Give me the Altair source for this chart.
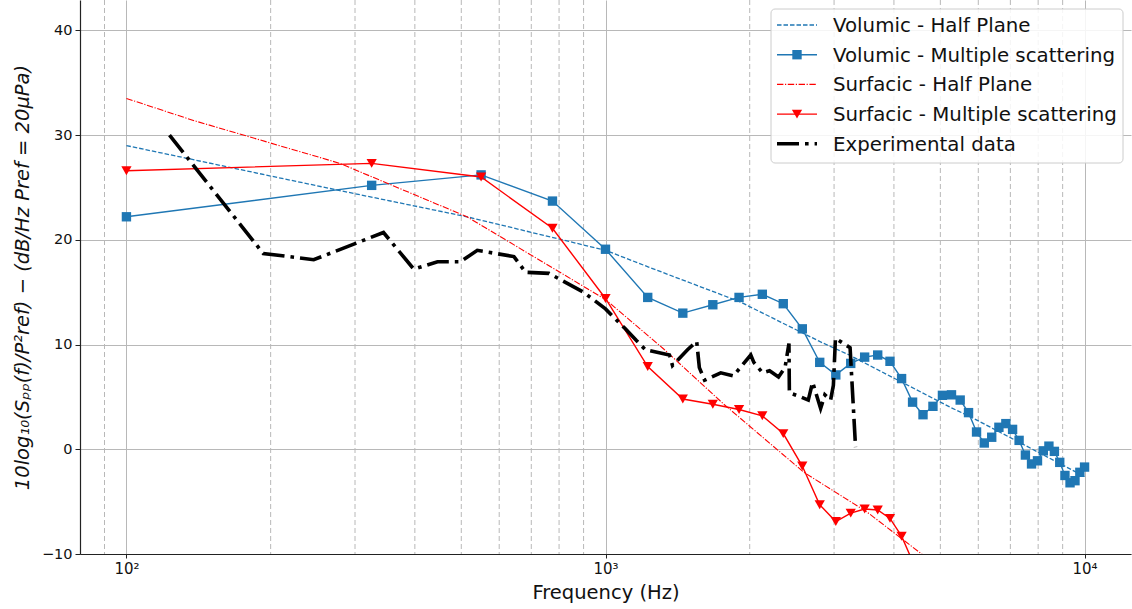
import altair as alt
import pandas as pd

# ---------------- data ----------------
freq_ms = [100, 325, 550, 775, 1000, 1225, 1450, 1675, 1900, 2125, 2350, 2575,
           2800, 3025, 3250, 3475, 3700, 3925, 4150, 4375, 4600, 4825, 5050,
           5275, 5500, 5725, 5950, 6175, 6400, 6625, 6850, 7075, 7300, 7525,
           7750, 7975, 8200, 8425, 8650, 8875, 9100, 9325, 9550, 9775, 10000]

vol_ms = [22.2, 25.2, 26.2, 23.7, 19.1, 14.5, 13.0, 13.8, 14.5, 14.8, 13.9, 11.5,
          8.3, 7.1, 8.2, 8.8, 9.0, 8.4, 6.75, 4.5, 3.3, 4.1, 5.15,
          5.2, 4.7, 3.5, 1.65, 0.6, 1.15, 2.1, 2.45, 1.9, 0.85, -0.55,
          -1.4, -1.1, -0.15, 0.3, -0.2, -1.25, -2.5, -3.2, -3.0, -2.2, -1.7]

sur_ms = [26.6, 27.3, 26.0, 21.1, 14.4, 7.9, 4.8, 4.3, 3.8, 3.2, 1.5, -1.6,
          -5.3, -6.9, -6.1, -5.7, -5.8, -6.6, -8.3, -10.7]

vol_hp_f = [100, 279, 514, 1000, 1230, 1905, 2812, 3228, 5250, 5780, 10000]
vol_hp = [29.0, 24.7, 22.2, 19.0, 17.4, 14.1, 10.25, 9.0, 4.0, 3.1, -2.6]

sur_hp_f = [100, 138, 279, 514, 1000, 1321, 1766, 2595, 3516, 4570, 5000]
sur_hp = [33.5, 31.4, 27.3, 22.2, 14.3, 9.6, 4.3, -2.2, -6.0, -10.0, -11.4]

exp_f = [123, 193, 246, 344, 398, 446, 498, 540, 644, 681, 762, 900, 1000,
         1100, 1159, 1212, 1360, 1380, 1483, 1550, 1570, 1610, 1740, 1848,
         2010, 2040, 2128, 2200, 2297, 2370, 2415, 2420, 2555, 2650, 2706,
         2812, 2870, 2950, 2990, 3020, 3240, 3326]
exp_v = [30.0, 18.7, 18.1, 20.7, 17.2, 17.9, 17.9, 19.0, 18.4, 16.9, 16.8, 15.0, 13.4,
         11.5, 10.4, 9.5, 9.0, 8.0, 9.5, 10.3, 7.8, 6.6, 7.3, 7.0,
         9.0, 8.3, 7.3, 7.5, 6.9, 7.8, 10.1, 5.4, 5.0, 4.7, 6.4,
         3.9, 5.2, 4.7, 6.1, 10.6, 9.7, 0.2]

minor_ticks = [90, 200, 300, 400, 500, 600, 700, 800, 900,
               2000, 3000, 4000, 5000, 6000, 7000, 8000, 9000]
major_x = [100, 1000, 10000]
major_y = [-10, 0, 10, 20, 30, 40]

labels = ["Volumic - Half Plane", "Volumic - Multiple scattering",
          "Surfacic - Half Plane", "Surfacic - Multiple scattering",
          "Experimental data"]

# ---------------- styling ----------------
BLUE = "#1f77b4"
RED = "#ff0000"
FONT = "DejaVu Sans"
SQ_SIZE = 88
TRI_SIZE = 105

xscale = alt.Scale(type="log", domain=[80, 12500], nice=False)
yscale = alt.Scale(domain=[-10, 42.9], nice=False, zero=False)

xaxis = alt.Axis(values=major_x,
                 labelExpr="datum.value == 100 ? '10²' : (datum.value == 1000 ? '10³' : '10⁴')",
                 title="Frequency (Hz)", titleFontSize=19.5, titleFontWeight="normal",
                 titleY=38, titleBaseline="middle", titleColor="#111",
                 labelFontSize=15, labelColor="#111", labelPadding=3,
                 tickSize=4, tickColor="#222", domainColor="#222", domainWidth=1.2,
                 grid=True, gridColor="#b8b8b8", gridWidth=1, labelFlush=False)
yaxis = alt.Axis(values=major_y,
                 labelExpr="datum.value < 0 ? '−' + abs(datum.value) : '' + datum.value",
                 title="10log₁₀(Sₚₚ(f)/P²ref) − (dB/Hz   Pref = 20μPa)",
                 titleFontSize=19.5, titleFontWeight="normal", titleFontStyle="italic",
                 titleX=-58, titleY=277, titleAngle=270, titleBaseline="middle",
                 titleAlign="center", titleColor="#111",
                 labelFontSize=14.5, labelColor="#111", labelPadding=3,
                 tickSize=5, tickColor="#222", domainColor="#222", domainWidth=1.2,
                 grid=True, gridColor="#b8b8b8", gridWidth=1)

X = alt.X("f:Q", scale=xscale, axis=xaxis)
Y = alt.Y("v:Q", scale=yscale, axis=yaxis)

df_vol_ms = pd.DataFrame({"f": freq_ms, "v": vol_ms})
df_sur_ms = pd.DataFrame({"f": freq_ms[:len(sur_ms)], "v": sur_ms})
df_vol_hp = pd.DataFrame({"f": vol_hp_f, "v": vol_hp})
df_sur_hp = pd.DataFrame({"f": sur_hp_f, "v": sur_hp})
df_exp = pd.DataFrame({"f": exp_f, "v": exp_v})
df_minor = pd.DataFrame({"f": minor_ticks})

minor_grid = alt.Chart(df_minor).mark_rule(
    color="#b8b8b8", strokeWidth=1, strokeDash=[5, 3]
).encode(x=alt.X("f:Q", scale=xscale, axis=xaxis))

l_vol_hp = alt.Chart(df_vol_hp).mark_line(
    color=BLUE, strokeWidth=1.3, strokeDash=[4.5, 2], clip=True
).encode(x=X, y=Y)

l_vol_ms = alt.Chart(df_vol_ms).mark_line(
    color=BLUE, strokeWidth=1.4, clip=True
).encode(x=X, y=Y)
p_vol_ms = alt.Chart(df_vol_ms).mark_point(
    shape="square", filled=True, color=BLUE, size=SQ_SIZE, opacity=1, clip=True
).encode(x=X, y=Y)

l_sur_hp = alt.Chart(df_sur_hp).mark_line(
    color=RED, strokeWidth=1.1, strokeDash=[6.4, 1.6, 1.2, 1.6], clip=True
).encode(x=X, y=Y)

l_sur_ms = alt.Chart(df_sur_ms).mark_line(
    color=RED, strokeWidth=1.4, clip=True
).encode(x=X, y=Y)
p_sur_ms = alt.Chart(df_sur_ms).mark_point(
    shape="triangle-down", filled=True, color=RED, size=TRI_SIZE, opacity=1, clip=True
).encode(x=X, y=Y)

l_exp = alt.Chart(df_exp).mark_line(
    color="black", strokeWidth=3.6, strokeDash=[22, 6, 3.6, 6], clip=True
).encode(x=X, y=Y)

# ---------------- legend (drawn by hand, matplotlib style) ----------------
LX0, LX1 = 691, 1043      # box, relative to plot origin
LY0, LY1 = 9, 163
SYM0, SYM1 = 697, 737
TXT = 753
ROW0, ROWSTEP = 25, 29.7

legend_layers = [
    alt.Chart(pd.DataFrame({"label": ["box"]})).mark_rect(
        fill="white", fillOpacity=0.85, stroke="#cccccc", strokeWidth=1, cornerRadius=4
    ).encode(x=alt.value(LX0), x2=alt.value(LX1), y=alt.value(LY0), y2=alt.value(LY1))
]
styles = [
    dict(color=BLUE, strokeWidth=1.3, strokeDash=[4.5, 2]),
    dict(color=BLUE, strokeWidth=1.4),
    dict(color=RED, strokeWidth=1.1, strokeDash=[6.4, 1.6, 1.2, 1.6]),
    dict(color=RED, strokeWidth=1.4),
    dict(color="black", strokeWidth=3.6, strokeDash=[22, 6, 3.6, 6]),
]
markers = [None, ("square", BLUE, SQ_SIZE), None, ("triangle-down", RED, TRI_SIZE), None]
for i, lab in enumerate(labels):
    yy = ROW0 + ROWSTEP * i
    d = pd.DataFrame({"label": [lab]})
    legend_layers.append(
        alt.Chart(d).mark_rule(**styles[i]).encode(
            x=alt.value(SYM0), x2=alt.value(SYM1), y=alt.value(yy))
    )
    if markers[i] is not None:
        shp, col, sz = markers[i]
        legend_layers.append(
            alt.Chart(d).mark_point(shape=shp, filled=True, color=col, size=sz, opacity=1).encode(
                x=alt.value((SYM0 + SYM1) / 2), y=alt.value(yy))
        )
    legend_layers.append(
        alt.Chart(d).mark_text(align="left", baseline="middle", fontSize=19.8,
                               font=FONT, color="#111").encode(
            x=alt.value(TXT), y=alt.value(yy + 1), text="label:N")
    )

chart = alt.layer(
    minor_grid, l_vol_hp, l_vol_ms, p_vol_ms, l_sur_hp, l_sur_ms, p_sur_ms, l_exp,
    *legend_layers
).properties(
    width=1051, height=554,
    autosize=alt.AutoSizeParams(type="none"),
    padding={"left": 80, "top": 0, "right": 1, "bottom": 55},
    background="white",
).configure(
    font=FONT
).configure_view(
    stroke=None
)

chart.save("out.html", embed_options={"renderer": "svg", "actions": False})
